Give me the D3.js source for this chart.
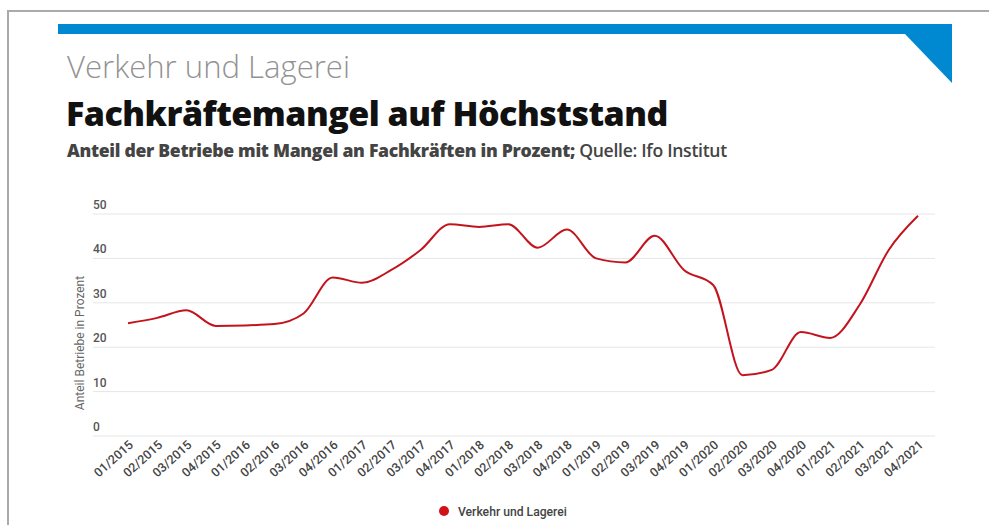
<!DOCTYPE html>
<html>
<head>
<meta charset="utf-8">
<script src="https://cdn.jsdelivr.net/npm/d3@7"></script>
<style>
  body { margin: 0; background: #fff; }
  svg { display: block; }
</style>
</head>
<body>
<div id="chart"></div>
<script>
// quarters 01/2015 .. 04/2021
var quarters = ["01/2015","02/2015","03/2015","04/2015","01/2016","02/2016","03/2016","04/2016",
  "01/2017","02/2017","03/2017","04/2017","01/2018","02/2018","03/2018","04/2018",
  "01/2019","02/2019","03/2019","04/2019","01/2020","02/2020","03/2020","04/2020",
  "01/2021","02/2021","03/2021","04/2021"];
// Anteil Betriebe mit Fachkräftemangel, Verkehr und Lagerei
var values = [25.4, 26.6, 28.3, 24.8, 24.9, 25.2, 27.6, 35.7,
  34.5, 37.4, 41.9, 47.7, 47.1, 47.7, 42.4, 46.5,
  40.0, 39.1, 45.1, 37.4, 34.0, 13.7, 14.9, 23.4,
  22.1, 29.5, 41.9, 49.6];
var yTicks = [0, 10, 20, 30, 40, 50];
var seriesName = "Verkehr und Lagerei";

var width = 989, height = 525;
var svg = d3.select("#chart").append("svg")
  .attr("width", width)
  .attr("height", height);

// shrink/grow font size so a text ends where it does in the original
function fitWidth(sel, target) {
  var fs = parseFloat(sel.style("font-size"));
  var w = sel.node().getComputedTextLength();
  sel.style("font-size", (fs * target / w).toFixed(2) + "px");
}

// frame + blue header band
svg.append("path")
  .attr("d", "M8,525 V11 H989")
  .attr("fill", "none")
  .attr("stroke", "#aaa")
  .attr("stroke-width", 2);
svg.append("rect")
  .attr("x", 58).attr("y", 24).attr("width", 894).attr("height", 10)
  .attr("fill", "#0089d1");
svg.append("path")
  .attr("d", "M905,34 L952,34 L952,83 Z")
  .attr("fill", "#0089d1");

// headings
var kicker = svg.append("text")
  .attr("x", 67).attr("y", 78)
  .style("font-family", "'Open Sans', sans-serif")
  .style("font-weight", 300)
  .style("font-size", "26px")
  .style("fill", "#929292")
  .text("Verkehr und Lagerei");
fitWidth(kicker, 283);

var title = svg.append("text")
  .attr("x", 66).attr("y", 126)
  .style("font-family", "'Open Sans', sans-serif")
  .style("font-weight", 800)
  .style("font-size", "34px")
  .style("fill", "#111")
  .style("letter-spacing", "-0.5px")
  .text("Fachkräftemangel auf Höchststand");
fitWidth(title, 602);

var sub = svg.append("text")
  .attr("x", 67).attr("y", 157)
  .style("font-family", "'Open Sans', sans-serif")
  .style("font-size", "17px")
  .style("fill", "#444")
  .style("letter-spacing", "-0.3px");
sub.append("tspan").style("font-weight", 800)
  .text("Anteil der Betriebe mit Mangel an Fachkräften in Prozent;");
sub.append("tspan").style("font-weight", 600)
  .text(" Quelle: Ifo Institut");
fitWidth(sub, 660);

// scales
var x = d3.scalePoint().domain(quarters).range([128, 918]);
var y = d3.scaleLinear().domain([0, 50]).range([436, 214]);

// gridlines + y labels
var grid = svg.append("g");
grid.selectAll("line").data(yTicks).enter().append("line")
  .attr("x1", 93).attr("x2", 935)
  .attr("y1", function(d) { return y(d); })
  .attr("y2", function(d) { return y(d); })
  .attr("stroke", "#e6e6e6")
  .attr("stroke-width", 1);
grid.selectAll("text").data(yTicks).enter().append("text")
  .attr("x", 93)
  .attr("y", function(d) { return y(d) - 5; })
  .style("font-family", "Roboto, sans-serif")
  .style("font-size", "12px")
  .style("font-weight", 500)
  .style("fill", "#555")
  .text(function(d) { return d; });

svg.append("text")
  .attr("transform", "translate(84,343) rotate(-90)")
  .attr("text-anchor", "middle")
  .style("font-family", "Roboto, sans-serif")
  .style("font-size", "12px")
  .style("fill", "#666")
  .text("Anteil Betriebe in Prozent");

// x labels, rotated
svg.append("g").selectAll("text").data(quarters).enter().append("text")
  .attr("transform", function(d) { return "translate(" + (x(d) + 6) + ",446) rotate(-42)"; })
  .attr("text-anchor", "end")
  .style("font-family", "Roboto, sans-serif")
  .style("font-size", "12.5px")
  .style("font-weight", 500)
  .style("fill", "#444")
  .text(function(d) { return d; });

// the line
var line = d3.line()
  .x(function(d, i) { return x(quarters[i]); })
  .y(function(d) { return y(d); })
  .curve(d3.curveMonotoneX);
svg.append("path")
  .datum(values)
  .attr("d", line)
  .attr("fill", "none")
  .attr("stroke", "#c3141e")
  .attr("stroke-width", 2);

// legend
svg.append("circle")
  .attr("cx", 444).attr("cy", 511).attr("r", 5)
  .attr("fill", "#d0121b");
var leg = svg.append("text")
  .attr("x", 458).attr("y", 515.5)
  .style("font-family", "Roboto, sans-serif")
  .style("font-size", "12px")
  .style("font-weight", 500)
  .style("fill", "#444")
  .text(seriesName);
fitWidth(leg, 109);
</script>
</body>
</html>
